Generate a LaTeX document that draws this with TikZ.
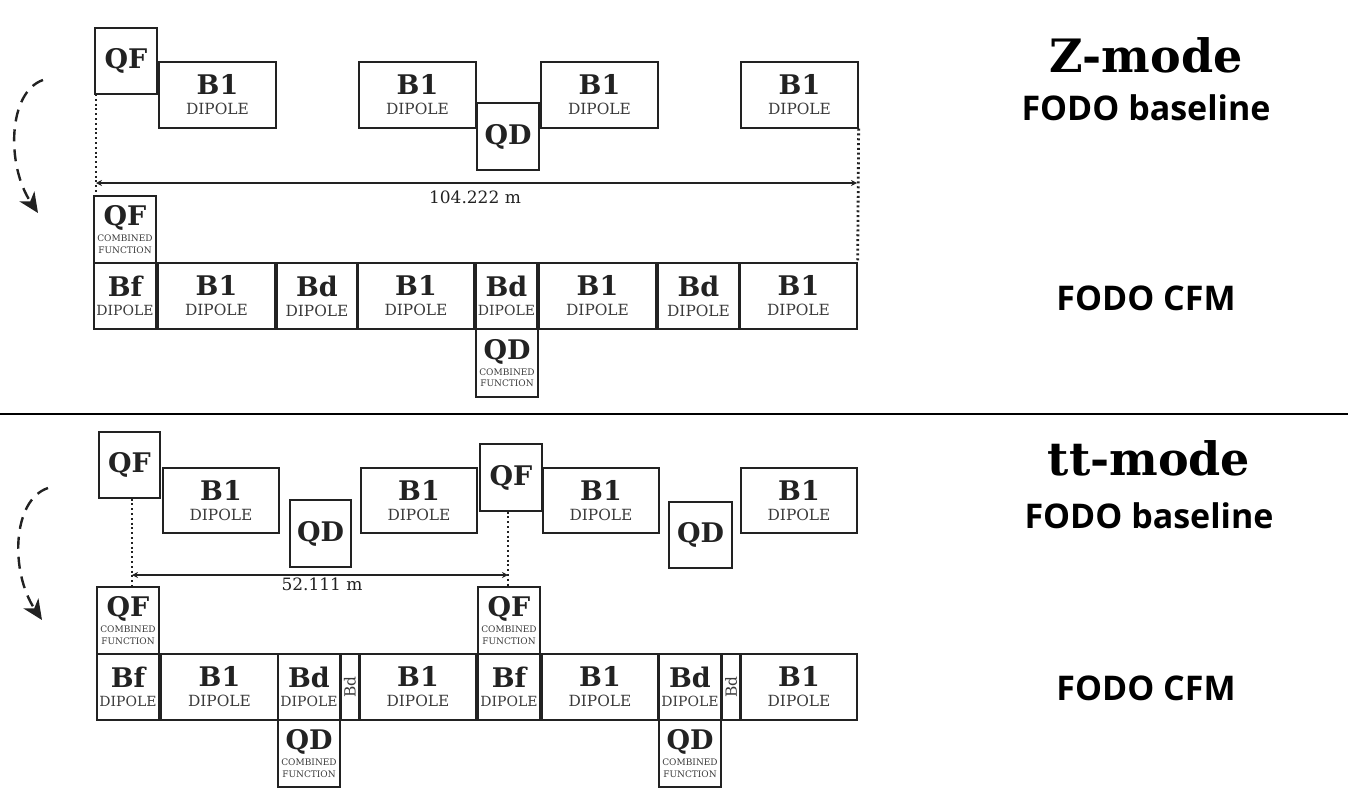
\documentclass[tikz,border=0pt]{standalone}
\usepackage{fontspec}
\setmainfont{DejaVu Serif}
\newfontfamily\hdsans{Open Sans}
\usetikzlibrary{arrows.meta}
\definecolor{ink}{HTML}{222222}
\definecolor{subink}{HTML}{3a3a3a}
\newcommand\ttl[1]{{\fontsize{13.5}{14}\selectfont\bfseries #1}}
\newcommand\sbt[1]{{\fontsize{7.7}{8}\selectfont\color{subink}#1}}
\newcommand\sbn[1]{{\fontsize{7}{8}\selectfont\color{subink}#1}}
\newcommand\cfs[1]{{\fontsize{4.5}{5}\selectfont\color{subink}#1}}
\newcommand\td[1]{\ttl{#1}\\[2pt]\sbt{DIPOLE}}
\newcommand\tdn[1]{\ttl{#1}\\[1.5pt]\sbn{DIPOLE}}
\newcommand\tcf[1]{\ttl{#1}\\[0pt]\cfs{COMBINED}\\[-2.3pt]\cfs{FUNCTION}}
\newcommand\bxx[6]{\node[box, minimum width={(#4-#2)*0.5pt}, minimum height={(#5-#3)*0.5pt}] (#1) at ({(#2+#4)/2},{(#3+#5)/2}) {#6};}
\tikzset{
  box/.style={draw=ink, line width=0.65pt, inner sep=0pt, align=center, text=ink, font=\fontsize{7}{8}\selectfont},
  dimline/.style={draw=ink, line width=0.55pt, {Stealth[length=3pt,width=3pt]}-{Stealth[length=3pt,width=3pt]}},
  guide/.style={draw=ink, line width=1.4pt, dash pattern=on 1pt off 1.4pt},
  flowarrow/.style={draw=ink, line width=1.2pt, dash pattern=on 6pt off 4pt, -{Stealth[length=10pt,width=9pt,inset=3pt]}},
  modelabel/.style={font=\fontsize{23}{25}\selectfont\bfseries, text=black, anchor=base},
  fodolabel/.style={font=\hdsans\fontsize{17}{19}\selectfont\bfseries, text=black, anchor=base},
  dimlabel/.style={font=\fontsize{8.5}{9}\selectfont, text=ink, anchor=base}
}
\begin{document}
\begin{tikzpicture}[x=0.5pt, y=-0.5pt]
\useasboundingbox (0,0) rectangle (1364,804);
% ---------------- Z-mode -----------------
\bxx{zqf}{95}{28}{157}{94}{\ttl{QF}}
\bxx{zba}{159}{62}{276}{128}{\td{B1}}
\bxx{zbb}{359}{62}{476}{128}{\td{B1}}
\bxx{zqd}{477}{103}{539}{170}{\ttl{QD}}
\bxx{zbc}{541}{62}{658}{128}{\td{B1}}
\bxx{zbd}{741}{62}{858}{128}{\td{B1}}

\bxx{zqfc}{94}{196}{156}{263}{\tcf{QF}}
\bxx{zbf}{94}{263}{156}{329}{\tdn{Bf}}
\bxx{zca}{158}{263}{275}{329}{\td{B1}}
\bxx{zda}{277}{263}{357}{329}{\td{Bd}}
\bxx{zcb}{358}{263}{474}{329}{\td{B1}}
\bxx{zdb}{476}{263}{537}{329}{\tdn{Bd}}
\bxx{zcc}{539}{263}{656}{329}{\td{B1}}
\bxx{zdc}{658}{263}{739}{329}{\td{Bd}}
\bxx{zcd}{740}{263}{857}{329}{\td{B1}}
\bxx{zqdc}{476}{329}{538}{397}{\tcf{QD}}

\coordinate (zl) at (96,183);
\coordinate (zr) at (857,183);
\draw[guide] (96,94) -- (zqfc.north west -| zl);
\draw[guide] (zbd.south east) -- (zcd.north east);
\draw[dimline] (zl) -- (zr);
\node[dimlabel] (zdim) at (475,203) {104.222 m};

\coordinate (za0) at (43,80);
\coordinate (za1) at (38,213);
\draw[flowarrow] (za0) .. controls (8,92) and (6,165) .. (za1);

\node[modelabel] (zmode) at (1146,72) {Z-mode};
\node[fodolabel] (zbase) at (1146,120) {FODO baseline};
\node[fodolabel] (zcfm) at (1146,310) {FODO CFM};

% separator
\coordinate (s0) at (0,414);
\coordinate (s1) at (1348,414);
\draw[line width=1.2pt, black] (s0) -- (s1);

% ---------------- tt-mode -----------------
\bxx{tqfa}{99}{432}{160}{498}{\ttl{QF}}
\bxx{tba}{163}{468}{279}{533}{\td{B1}}
\bxx{tqda}{290}{500}{351}{567}{\ttl{QD}}
\bxx{tbb}{361}{468}{477}{533}{\td{B1}}
\bxx{tqfb}{480}{444}{542}{511}{\ttl{QF}}
\bxx{tbc}{543}{468}{659}{533}{\td{B1}}
\bxx{tqdb}{669}{502}{732}{568}{\ttl{QD}}
\bxx{tbd}{741}{468}{857}{533}{\td{B1}}

\bxx{tqfca}{97}{587}{159}{654}{\tcf{QF}}
\bxx{tqfcb}{478}{587}{540}{654}{\tcf{QF}}
\bxx{tbfa}{97}{654}{159}{720}{\tdn{Bf}}
\bxx{tca}{161}{654}{278}{720}{\td{B1}}
\bxx{tda}{278}{654}{340}{720}{\tdn{Bd}}
\bxx{tea}{341}{654}{359}{720}{\rotatebox{90}{\sbt{Bd}}}
\bxx{tcb}{360}{654}{476}{720}{\td{B1}}
\bxx{tbfb}{478}{654}{540}{720}{\tdn{Bf}}
\bxx{tcc}{542}{654}{658}{720}{\td{B1}}
\bxx{tdb}{659}{654}{721}{720}{\tdn{Bd}}
\bxx{teb}{722}{654}{740}{720}{\rotatebox{90}{\sbt{Bd}}}
\bxx{tcd}{741}{654}{857}{720}{\td{B1}}
\bxx{tqdca}{278}{720}{340}{787}{\tcf{QD}}
\bxx{tqdcb}{659}{720}{721}{787}{\tcf{QD}}

\coordinate (tl) at (132,575);
\coordinate (tr) at (508,575);
\draw[guide] (tqfa.south -| tl) -- (tqfca.north -| tl);
\draw[guide] (tqfb.south -| tr) -- (tqfcb.north -| tr);
\draw[dimline] (tl) -- (tr);
\node[dimlabel] (tdim) at (322,590) {52.111 m};

\coordinate (ta0) at (48,488);
\coordinate (ta1) at (42,620);
\draw[flowarrow] (ta0) .. controls (12,500) and (10,572) .. (ta1);

\node[modelabel] (tmode) at (1149,475) {tt-mode};
\node[fodolabel] (tbase) at (1149,528) {FODO baseline};
\node[fodolabel] (tcfm) at (1146,700) {FODO CFM};
\end{tikzpicture}
\end{document}
